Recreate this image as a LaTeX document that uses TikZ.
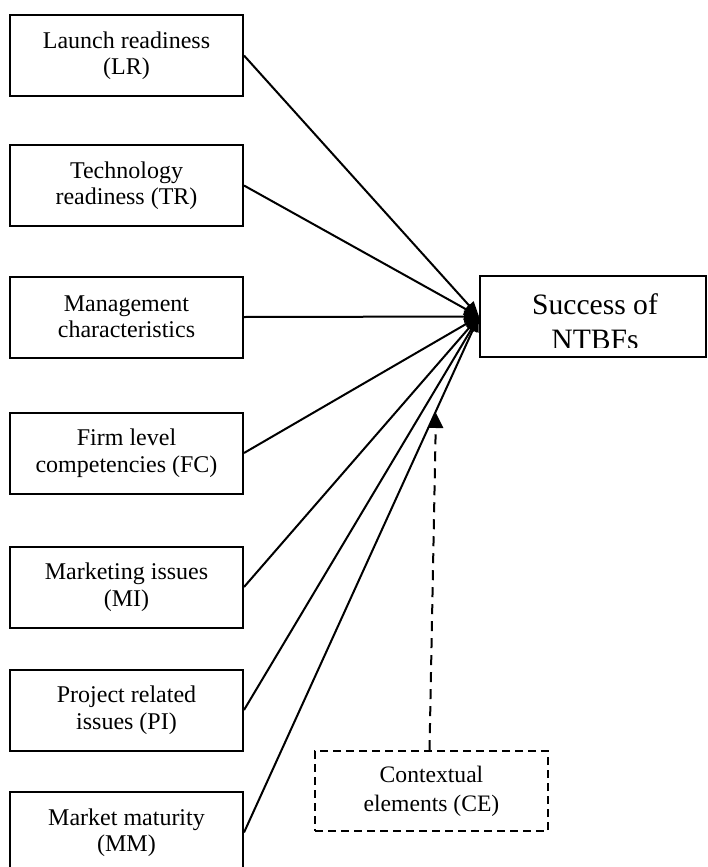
\documentclass[tikz,border=0pt]{standalone}
\usepackage{fontspec}
\setmainfont{Liberation Serif}
\usetikzlibrary{arrows.meta,calc}

\tikzset{
  factor/.style={draw, line width=2pt, minimum width=233pt, minimum height=81pt,
    align=center, inner sep=0pt, font=\fontsize{24}{26.5}\selectfont},
  outcome/.style={draw, line width=2pt, minimum width=226pt, minimum height=81pt, inner sep=0pt},
  outcometext/.style={align=center, inner sep=0pt, font=\fontsize{29.6}{35}\selectfont},
  context/.style={draw, line width=1.6pt, dash pattern=on 8pt off 5pt, minimum width=233pt,
    minimum height=80pt, align=center, inner sep=0pt, font=\fontsize{23.6}{29}\selectfont},
  link/.style={line width=2pt, -{Triangle[length=15pt,width=12pt]}},
  moderator/.style={line width=2pt, dash pattern=on 10pt off 7pt,
    -{Triangle[length=15pt,width=15pt]}}
}

\begin{document}
\begin{tikzpicture}[x=1pt,y=-1pt]
  \useasboundingbox (0,0) rectangle (707,867);

  % determinant boxes on the left
  \node[factor] (lr) at (126.5,55.5) {Launch readiness\\(LR)};
  \node[factor] (tr) at (126.5,185.5) {Technology\\readiness (TR)};
  \node[factor] (mc) at (126.5,317) {Management\\characteristics};
  \node[factor] (fc) at (126.5,453) {Firm level\\competencies (FC)};
  \node[factor] (mi) at (126.5,587) {Marketing issues\\(MI)};
  \node[factor] (pi) at (126.5,710) {Project related\\issues (PI)};
  \node[factor] (mm) at (126.5,832.5) {Market maturity\\(MM)};

  % outcome box; its text overflows and is cut at the lower edge
  \node[outcome] (succ) at (593,316.5) {};
  \begin{scope}
    \clip (480,276) rectangle (706,347.5);
    \node[outcometext] (succtext) at (595,322) {Success of\\NTBFs};
  \end{scope}

  % moderating context
  \node[context] (ce) at (431.5,791) {Contextual\\elements (CE)};
  \coordinate (ceTip) at (436,413);

  % direct effects
  \foreach \f in {lr,tr,mc,fc,mi,pi,mm}
    \draw[link] (\f.east) -- (succ.west);

  % moderating effect
  \draw[moderator] ($(ce.north)+(-2,0)$) -- (ceTip);
\end{tikzpicture}
\end{document}
